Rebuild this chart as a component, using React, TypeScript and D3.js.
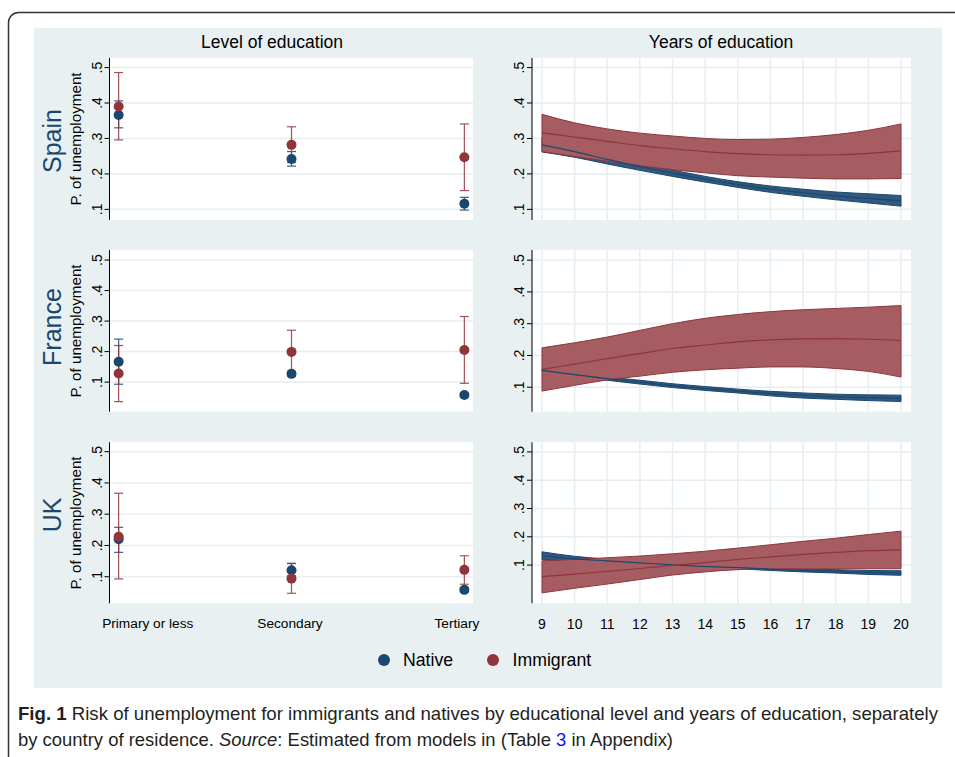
import React from "react";
import * as d3 from "d3";

// ---------- data ----------
const countries = ["Spain", "France", "UK"];
const categories = ["Primary or less", "Secondary", "Tertiary"];
const seriesNames = ["Native", "Immigrant"];
const years = [9, 10, 11, 12, 13, 14, 15, 16, 17, 18, 19, 20];
const yTickValues = [0.1, 0.2, 0.3, 0.4, 0.5];
const yTickLabels = [".1", ".2", ".3", ".4", ".5"];

// Level of education: estimate, lower CI, upper CI
const spainNativeLevel = [0.366, 0.242, 0.116];
const spainNativeLevelLo = [0.33, 0.222, 0.098];
const spainNativeLevelHi = [0.406, 0.263, 0.134];
const spainImmLevel = [0.39, 0.282, 0.247];
const spainImmLevelLo = [0.296, 0.232, 0.153];
const spainImmLevelHi = [0.486, 0.333, 0.341];

const franceNativeLevel = [0.167, 0.127, 0.058];
const franceNativeLevelLo = [0.093, 0.119, 0.052];
const franceNativeLevelHi = [0.241, 0.135, 0.064];
const franceImmLevel = [0.128, 0.199, 0.205];
const franceImmLevelLo = [0.036, 0.13, 0.096];
const franceImmLevelHi = [0.22, 0.27, 0.315];

const ukNativeLevel = [0.22, 0.121, 0.058];
const ukNativeLevelLo = [0.178, 0.103, 0.052];
const ukNativeLevelHi = [0.258, 0.143, 0.064];
const ukImmLevel = [0.228, 0.094, 0.122];
const ukImmLevelLo = [0.093, 0.047, 0.076];
const ukImmLevelHi = [0.367, 0.142, 0.167];

// Years of education: mean, lower, upper
const spainNativeYears = [0.282, 0.263, 0.241, 0.221, 0.202, 0.185, 0.17, 0.157, 0.147, 0.138, 0.131, 0.124];
const spainNativeYearsLo = [0.262, 0.247, 0.228, 0.21, 0.193, 0.177, 0.162, 0.148, 0.137, 0.127, 0.118, 0.109];
const spainNativeYearsHi = [0.302, 0.279, 0.254, 0.232, 0.211, 0.193, 0.178, 0.166, 0.157, 0.149, 0.144, 0.139];
const spainImmYears = [0.316, 0.304, 0.292, 0.28, 0.271, 0.263, 0.257, 0.254, 0.253, 0.254, 0.258, 0.265];
const spainImmYearsLo = [0.263, 0.249, 0.236, 0.223, 0.212, 0.203, 0.195, 0.191, 0.188, 0.186, 0.186, 0.187];
const spainImmYearsHi = [0.368, 0.344, 0.327, 0.315, 0.307, 0.3, 0.297, 0.298, 0.303, 0.311, 0.323, 0.341];

const franceNativeYears = [0.153, 0.14, 0.127, 0.116, 0.105, 0.096, 0.088, 0.08, 0.074, 0.07, 0.067, 0.065];
const franceNativeYearsLo = [0.15, 0.136, 0.122, 0.11, 0.099, 0.09, 0.082, 0.073, 0.066, 0.062, 0.058, 0.055];
const franceNativeYearsHi = [0.156, 0.144, 0.132, 0.122, 0.111, 0.102, 0.094, 0.087, 0.082, 0.078, 0.076, 0.075];
const franceImmYears = [0.156, 0.173, 0.19, 0.206, 0.222, 0.233, 0.243, 0.249, 0.252, 0.253, 0.251, 0.247];
const franceImmYearsLo = [0.088, 0.106, 0.123, 0.135, 0.147, 0.155, 0.16, 0.164, 0.164, 0.159, 0.15, 0.132];
const franceImmYearsHi = [0.224, 0.24, 0.258, 0.279, 0.3, 0.317, 0.329, 0.338, 0.344, 0.348, 0.352, 0.357];

const ukNativeYears = [0.133, 0.122, 0.115, 0.108, 0.101, 0.095, 0.091, 0.086, 0.081, 0.078, 0.074, 0.072];
const ukNativeYearsLo = [0.119, 0.113, 0.109, 0.104, 0.097, 0.091, 0.087, 0.081, 0.076, 0.072, 0.067, 0.064];
const ukNativeYearsHi = [0.147, 0.131, 0.121, 0.112, 0.105, 0.099, 0.095, 0.091, 0.086, 0.084, 0.081, 0.08];
const ukImmYears = [0.059, 0.068, 0.078, 0.088, 0.099, 0.109, 0.12, 0.129, 0.138, 0.145, 0.151, 0.154];
const ukImmYearsLo = [0.002, 0.018, 0.033, 0.049, 0.065, 0.076, 0.084, 0.086, 0.087, 0.087, 0.087, 0.087];
const ukImmYearsHi = [0.115, 0.12, 0.126, 0.132, 0.14, 0.149, 0.16, 0.172, 0.184, 0.195, 0.208, 0.22];

const levelData = [
  { native: [spainNativeLevel, spainNativeLevelLo, spainNativeLevelHi], imm: [spainImmLevel, spainImmLevelLo, spainImmLevelHi] },
  { native: [franceNativeLevel, franceNativeLevelLo, franceNativeLevelHi], imm: [franceImmLevel, franceImmLevelLo, franceImmLevelHi] },
  { native: [ukNativeLevel, ukNativeLevelLo, ukNativeLevelHi], imm: [ukImmLevel, ukImmLevelLo, ukImmLevelHi] },
];
const yearsData = [
  { native: [spainNativeYears, spainNativeYearsLo, spainNativeYearsHi], imm: [spainImmYears, spainImmYearsLo, spainImmYearsHi] },
  { native: [franceNativeYears, franceNativeYearsLo, franceNativeYearsHi], imm: [franceImmYears, franceImmYearsLo, franceImmYearsHi] },
  { native: [ukNativeYears, ukNativeYearsLo, ukNativeYearsHi], imm: [ukImmYears, ukImmYearsLo, ukImmYearsHi] },
];

// ---------- layout ----------
const FONT = "'Liberation Sans', Arial, sans-serif";
const CAPTION_FONT = "'Liberation Sans Narrow', 'Liberation Sans', Arial, sans-serif";
const NAVY = "#1a476f";
const MAROON = "#90353b";
const NAVY_FILL = "#31597d";
const MAROON_FILL = "#a55d62";
const BG = "#e8f0f2";
const GRID = "#e6eef0";

const rowLayout = [
  { top: 58, bottom: 220, leftDomain: [0.07, 0.527], rightDomain: [0.07, 0.527], labelY: 141, titleY: 139 },
  { top: 250, bottom: 411.7, leftDomain: [0.003, 0.533], rightDomain: [0.023, 0.532], labelY: 327, titleY: 331 },
  { top: 442.3, bottom: 603.3, leftDomain: [0.015, 0.53], rightDomain: [-0.035, 0.534], labelY: 515, titleY: 523 },
];
const LEFT = { x0: 110, x1: 473, axisX: 109.5, labelX: 96.5 };
const RIGHT = { x0: 532.7, x1: 911, axisX: 532, labelX: 518.5 };

function YAxis({ y, axisX, labelX, top, bottom }) {
  return (
    <g>
      <line x1={axisX} x2={axisX} y1={top} y2={bottom} stroke="#000" strokeWidth={1} />
      {yTickValues.map((v, i) => (
        <g key={i}>
          <line x1={axisX - 5} x2={axisX} y1={y(v)} y2={y(v)} stroke="#000" strokeWidth={1} />
          <text
            transform={`translate(${labelX},${y(v)}) rotate(-90)`}
            textAnchor="middle"
            dominantBaseline="central"
            fontSize={14}
            fontFamily={FONT}
            fill="#000"
          >
            {yTickLabels[i]}
          </text>
        </g>
      ))}
    </g>
  );
}

function LevelPanel({ row, data }) {
  const L = rowLayout[row];
  const x = d3.scaleLinear().domain([-0.05, 2.05]).range([LEFT.x0, LEFT.x1]);
  const y = d3.scaleLinear().domain(L.leftDomain).range([L.bottom, L.top]);
  const series = [
    { d: data.native, color: NAVY },
    { d: data.imm, color: MAROON },
  ];
  return (
    <g>
      <rect x={LEFT.x0} y={L.top} width={LEFT.x1 - LEFT.x0} height={L.bottom - L.top} fill="#fff" />
      {yTickValues.map((v, i) => (
        <line key={i} x1={LEFT.x0} x2={LEFT.x1} y1={y(v)} y2={y(v)} stroke={GRID} strokeWidth={1.5} />
      ))}
      {series.map((s, si) =>
        categories.map((c, ci) => (
          <g key={`ci${si}-${ci}`} stroke={s.color} strokeWidth={1.2} opacity={0.85}>
            <line x1={x(ci)} x2={x(ci)} y1={y(s.d[1][ci])} y2={y(s.d[2][ci])} />
            <line x1={x(ci) - 4.5} x2={x(ci) + 4.5} y1={y(s.d[1][ci])} y2={y(s.d[1][ci])} />
            <line x1={x(ci) - 4.5} x2={x(ci) + 4.5} y1={y(s.d[2][ci])} y2={y(s.d[2][ci])} />
          </g>
        ))
      )}
      {series.map((s, si) =>
        categories.map((c, ci) => (
          <circle key={`pt${si}-${ci}`} cx={x(ci)} cy={y(s.d[0][ci])} r={5} fill={s.color} />
        ))
      )}
      <YAxis y={y} axisX={LEFT.axisX} labelX={LEFT.labelX} top={L.top} bottom={L.bottom} />
      <text
        transform={`translate(75,${L.titleY}) rotate(-90)`}
        textAnchor="middle"
        dominantBaseline="central"
        fontSize={15.2}
        fontFamily={FONT}
        fill="#000"
      >
        P. of unemployment
      </text>
      <text
        transform={`translate(52,${L.labelY}) rotate(-90)`}
        textAnchor="middle"
        dominantBaseline="central"
        fontSize={25}
        fontFamily={FONT}
        fill={NAVY}
      >
        {countries[row]}
      </text>
      {row === 2 &&
        categories.map((c, ci) => (
          <text
            key={c}
            x={ci === 0 ? x(ci) - 16.5 : ci === 2 ? x(ci) + 15 : x(ci) - 1.5}
            y={627.5}
            textAnchor={ci === 0 ? "start" : ci === 2 ? "end" : "middle"}
            fontSize={13.7}
            fontFamily={FONT}
            fill="#000"
          >
            {c}
          </text>
        ))}
    </g>
  );
}

function YearsPanel({ row, data }) {
  const L = rowLayout[row];
  const x = d3.scaleLinear().domain([8.715, 20.306]).range([RIGHT.x0, RIGHT.x1]);
  const y = d3.scaleLinear().domain(L.rightDomain).range([L.bottom, L.top]);
  const area = d3
    .area<number>()
    .x((d, i) => x(years[i]))
    .curve(d3.curveMonotoneX);
  const line = d3
    .line<number>()
    .x((d, i) => x(years[i]))
    .y((d) => y(d))
    .curve(d3.curveMonotoneX);
  const bandPath = (lo: number[], hi: number[]) =>
    area.y0((d, i) => y(lo[i])).y1((d, i) => y(hi[i]))(years as any);
  const series = [
    { d: data.native, color: NAVY, fill: NAVY_FILL },
    { d: data.imm, color: MAROON, fill: MAROON_FILL },
  ];
  return (
    <g>
      <rect x={RIGHT.x0} y={L.top} width={RIGHT.x1 - RIGHT.x0} height={L.bottom - L.top} fill="#fff" />
      {yTickValues.map((v, i) => (
        <line key={i} x1={RIGHT.x0} x2={RIGHT.x1} y1={y(v)} y2={y(v)} stroke={GRID} strokeWidth={1.5} />
      ))}
      {years.map((yr) => (
        <line key={yr} x1={x(yr)} x2={x(yr)} y1={L.top} y2={L.bottom} stroke={GRID} strokeWidth={1.5} />
      ))}
      {series.map((s, si) => (
        <path key={`b${si}`} d={bandPath(s.d[1], s.d[2]) || ""} fill={s.fill} stroke={s.color} strokeWidth={1} />
      ))}
      {series.map((s, si) => (
        <path key={`l${si}`} d={line(s.d[0]) || ""} fill="none" stroke={s.color} strokeWidth={1.2} />
      ))}
      <YAxis y={y} axisX={RIGHT.axisX} labelX={RIGHT.labelX} top={L.top} bottom={L.bottom} />
      {row === 2 &&
        years.map((yr) => (
          <text key={yr} x={x(yr)} y={629} textAnchor="middle" fontSize={14} fontFamily={FONT} fill="#000">
            {yr}
          </text>
        ))}
    </g>
  );
}

export default function App() {
  return (
    <svg
      width={955}
      height={757}
      viewBox="0 0 955 757"
      style={{ position: "absolute", left: 0, top: 0, background: "#fff" }}
    >
      <rect x={8.5} y={12.5} width={980} height={760} rx={10} fill="#fff" stroke="#333" strokeWidth={1.5} />
      <rect x={34} y={28} width={908} height={660} fill={BG} />
      <text x={272} y={48} textAnchor="middle" fontSize={17.5} fontFamily={FONT} fill="#000">
        Level of education
      </text>
      <text x={721} y={48} textAnchor="middle" fontSize={17.5} fontFamily={FONT} fill="#000">
        Years of education
      </text>
      {countries.map((c, i) => (
        <g key={c}>
          <LevelPanel row={i} data={levelData[i]} />
          <YearsPanel row={i} data={yearsData[i]} />
        </g>
      ))}
      {/* legend */}
      <circle cx={384} cy={660} r={6} fill={NAVY} />
      <text x={403} y={666} fontSize={17.7} fontFamily={FONT} fill="#000">
        {seriesNames[0]}
      </text>
      <circle cx={493} cy={660} r={6} fill={MAROON} />
      <text x={512.5} y={666} fontSize={17.7} fontFamily={FONT} fill="#000">
        {seriesNames[1]}
      </text>
      {/* caption */}
      <text
        x={18}
        y={720}
        fontSize={18.5}
        fontFamily={CAPTION_FONT}
        fill="#231f20"
        textLength={920}
        lengthAdjust="spacingAndGlyphs"
      >
        <tspan fontWeight="bold">Fig. 1</tspan> Risk of unemployment for immigrants and natives by educational level and years of education, separately
      </text>
      <text
        x={18}
        y={746}
        fontSize={18.5}
        fontFamily={CAPTION_FONT}
        fill="#231f20"
        textLength={655}
        lengthAdjust="spacingAndGlyphs"
      >
        by country of residence. <tspan fontStyle="italic">Source</tspan>: Estimated from models in (Table{" "}
        <tspan fill="#1a0dff">3</tspan> in Appendix)
      </text>
    </svg>
  );
}
